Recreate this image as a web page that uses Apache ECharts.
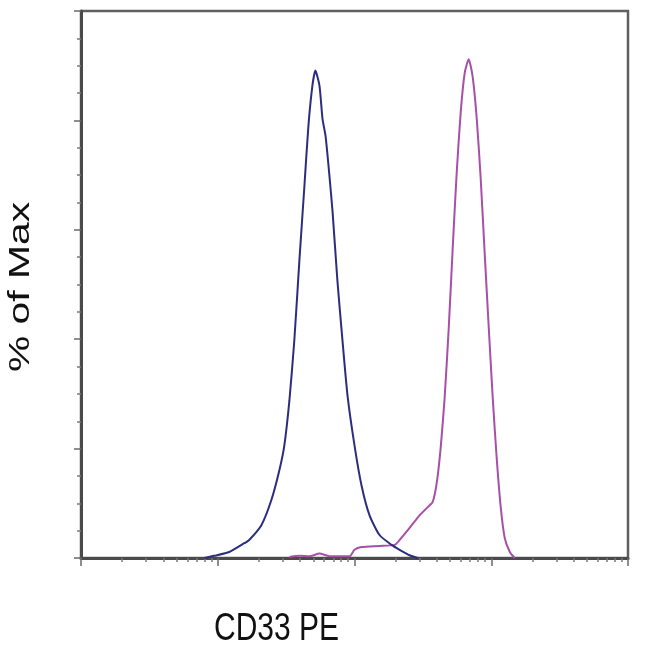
<!DOCTYPE html>
<html>
<head>
<meta charset="utf-8">
<script src="https://cdn.jsdelivr.net/npm/echarts@6/dist/echarts.min.js"></script>
<style>
html,body{margin:0;padding:0;background:#fff;}
#chart{width:650px;height:650px;}
</style>
</head>
<body>
<div id="chart"></div>
<script>
// x in decade units of the (log-like) CD33 PE scale, y in % of Max
const blueX = [0.901, 0.974, 1.084, 1.194, 1.230, 1.319, 1.392, 1.451, 1.487, 1.524, 1.560, 1.597, 1.634, 1.663, 1.692, 1.714, 1.744, 1.766, 1.788, 1.810, 1.839, 1.875, 1.912, 1.949, 2.000, 2.051, 2.110, 2.183, 2.271, 2.330, 2.403, 2.462];
const blueY = [0, 0.4, 1.1, 2.7, 3.3, 6.0, 10.6, 16.1, 20.6, 28.8, 39.8, 54.4, 68.1, 79.0, 86.3, 89.1, 86.3, 80.3, 77.2, 71.7, 63.5, 50.7, 39.8, 29.7, 20.6, 13.3, 7.8, 4.2, 2.4, 1.5, 0.5, 0];

const pinkX = [1.524, 1.600, 1.670, 1.744, 1.780, 1.817, 1.900, 1.963, 2.000, 2.051, 2.183, 2.293, 2.330, 2.403, 2.476, 2.535, 2.571, 2.601, 2.630, 2.659, 2.689, 2.718, 2.747, 2.777, 2.806, 2.835, 2.864, 2.894, 2.923, 2.952, 2.982, 3.011, 3.040, 3.070, 3.099, 3.136, 3.172];
const pinkY = [0.2, 0.4, 0.3, 0.8, 0.6, 0.3, 0.3, 0.3, 1.5, 2.0, 2.2, 2.4, 3.3, 5.5, 7.8, 9.3, 10.2, 13.7, 20.1, 29.2, 42.0, 56.6, 70.3, 81.6, 88.7, 91.2, 88.0, 80.3, 69.3, 55.7, 42.0, 29.2, 18.2, 9.1, 3.6, 1.1, 0];

const majorXTicks = [0, 1, 2, 3, 4];
const minorMultipliers = [2, 3, 4, 5, 6, 7, 8, 9];
const xTitle = 'CD33 PE';
const yTitle = '% of Max';

const minorXTicks = [];
for (let d = 0; d < 4; d++) {
  minorMultipliers.forEach(m => minorXTicks.push(d + Math.log10(m)));
}

const chart = echarts.init(document.getElementById('chart'));
const zip = (xs, ys) => xs.map((x, i) => [x, ys[i]]);
const titleFont = '30px "Liberation Sans", Arial, sans-serif';

chart.setOption({
  animation: false,
  backgroundColor: '#fff',
  grid: {
    left: 81, top: 11, right: 22, bottom: 92,
    show: true, borderColor: '#5f5f5f', borderWidth: 2.5, backgroundColor: 'transparent'
  },
  xAxis: [
    {
      type: 'value', min: 0, max: 4, interval: 1,
      axisLine: { show: true, onZero: false, lineStyle: { color: '#4a4a4a', width: 3 } },
      axisTick: { show: true, length: 8, customValues: majorXTicks, lineStyle: { color: '#6a6a6a', width: 1.5 } },
      axisLabel: { show: false },
      splitLine: { show: false }
    },
    {
      type: 'value', min: 0, max: 4, position: 'bottom',
      axisLine: { show: false },
      axisTick: { show: true, length: 4, customValues: minorXTicks, lineStyle: { color: '#7a7a7a', width: 1.5 } },
      axisLabel: { show: false },
      splitLine: { show: false }
    }
  ],
  yAxis: {
    type: 'value', min: 0, max: 100, interval: 20,
    axisLine: { show: true, onZero: false, lineStyle: { color: '#4a4a4a', width: 3 } },
    axisTick: { show: true, length: 7, lineStyle: { color: '#6a6a6a', width: 1.5 } },
    minorTick: { show: true, splitNumber: 4, length: 4, lineStyle: { color: '#7a7a7a', width: 1.5 } },
    axisLabel: { show: false },
    splitLine: { show: false },
    minorSplitLine: { show: false }
  },
  graphic: [
    {
      type: 'text', x: 214, y: 629, scaleY: 1.3,
      style: { text: xTitle, font: titleFont, fill: '#111', textAlign: 'left', textVerticalAlign: 'middle' }
    },
    {
      type: 'text', x: 21, y: 287, rotation: Math.PI / 2, scaleX: 1.36,
      style: { text: yTitle, font: titleFont, fill: '#111', textAlign: 'center', textVerticalAlign: 'middle' }
    }
  ],
  series: [
    {
      type: 'line', xAxisIndex: 0, data: zip(pinkX, pinkY), showSymbol: false, smooth: 0.2,
      lineStyle: { color: '#a84fa8', width: 2 }
    },
    {
      type: 'line', xAxisIndex: 0, data: zip(blueX, blueY), showSymbol: false, smooth: 0.2,
      lineStyle: { color: '#2d2d7e', width: 2 }
    }
  ]
});
</script>
</body>
</html>
